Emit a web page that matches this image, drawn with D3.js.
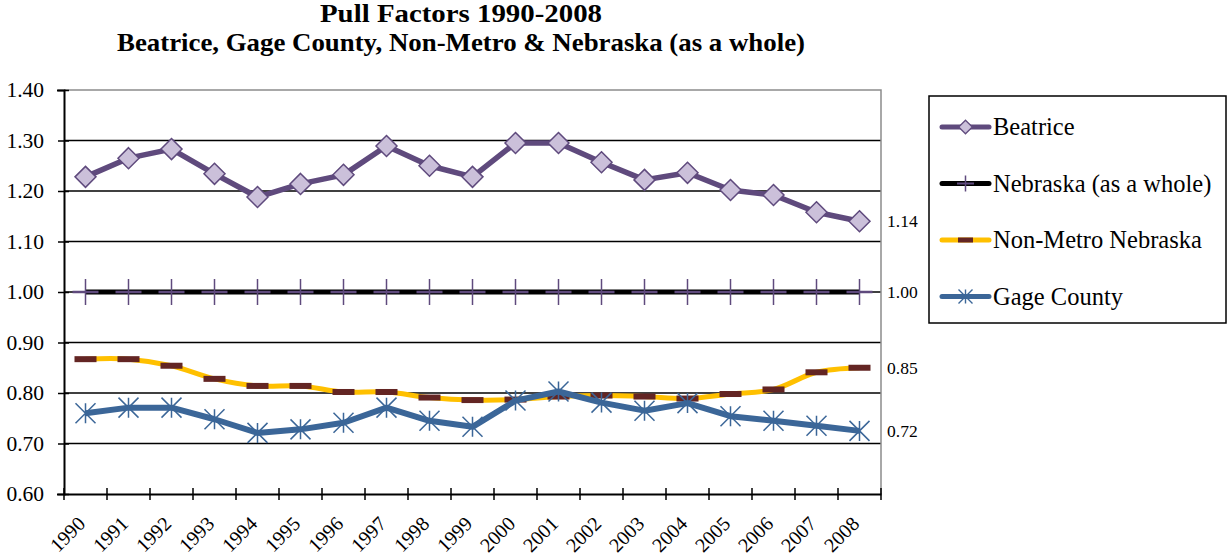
<!DOCTYPE html>
<html>
<head>
<meta charset="utf-8">
<script src="https://cdn.jsdelivr.net/npm/d3@7"></script>
<style>
  body { margin: 0; background: #fff; }
  svg { display: block; }
  text { font-family: "Liberation Serif", "Times New Roman", serif; }
</style>
</head>
<body>
<script>
// data
var years = ["1990","1991","1992","1993","1994","1995","1996","1997","1998","1999",
             "2000","2001","2002","2003","2004","2005","2006","2007","2008"];
var beatrice = [1.228,1.265,1.283,1.234,1.188,1.214,1.232,1.289,1.250,1.228,
                1.295,1.295,1.257,1.222,1.236,1.202,1.192,1.158,1.140];
var nebraska = [1.00,1.00,1.00,1.00,1.00,1.00,1.00,1.00,1.00,1.00,
                1.00,1.00,1.00,1.00,1.00,1.00,1.00,1.00,1.00];
var nonMetro = [0.867,0.867,0.854,0.828,0.814,0.814,0.802,0.802,0.791,0.786,
                0.787,0.793,0.795,0.793,0.789,0.798,0.807,0.841,0.850];
var gage = [0.760,0.771,0.771,0.748,0.721,0.728,0.741,0.771,0.745,0.733,
            0.785,0.803,0.781,0.765,0.780,0.754,0.745,0.735,0.725];
var yTicks = [0.60,0.70,0.80,0.90,1.00,1.10,1.20,1.30,1.40];
var endLabels = ["1.14","1.00","0.85","0.72"];

var svgWidth = 1228, svgHeight = 559;
var margin = {top: 90, left: 64, right: 881, bottom: 494};
var serif = "Liberation Serif";

var svg = d3.select("body").append("svg")
  .attr("width", svgWidth).attr("height", svgHeight);

var x = d3.scaleBand().domain(years).range([margin.left, margin.right]);
var y = d3.scaleLinear().domain([0.6, 1.4]).range([margin.bottom, margin.top]);
var cx = function(i) { return x(years[i]) + x.bandwidth() / 2; };

// title
var title = svg.append("g").attr("font-weight", "bold").attr("font-size", 26)
  .attr("font-family", serif).attr("text-anchor", "middle");
title.append("text").attr("x", 461).attr("y", 22).text("Pull Factors 1990-2008")
  .attr("textLength", 282).attr("lengthAdjust", "spacingAndGlyphs");
title.append("text").attr("x", 461).attr("y", 51)
  .text("Beatrice, Gage County, Non-Metro & Nebraska (as a whole)")
  .attr("textLength", 688).attr("lengthAdjust", "spacingAndGlyphs");

// gridlines
svg.append("g").selectAll("line").data(yTicks.filter(function(d) { return d > 0.65 && d < 1.35; }))
  .join("line")
  .attr("x1", margin.left).attr("x2", margin.right)
  .attr("y1", function(d) { return y(d); }).attr("y2", function(d) { return y(d); })
  .attr("stroke", "#000").attr("stroke-width", 1.5);

// top / right border
svg.append("path")
  .attr("d", "M" + margin.left + "," + margin.top + "H" + margin.right + "V" + margin.bottom)
  .attr("fill", "none").attr("stroke", "#8c8c8c").attr("stroke-width", 1.5);

// y axis
var yAxis = svg.append("g").attr("transform", "translate(" + margin.left + ",0)")
  .call(d3.axisLeft(y).tickValues(yTicks).tickFormat(d3.format(".2f")).tickSize(7).tickPadding(13));
yAxis.attr("font-family", serif).attr("font-size", 21.5);
yAxis.select(".domain").attr("stroke-width", 2);
yAxis.selectAll(".tick line").attr("x2", 5).attr("x1", -6).attr("stroke-width", 1.5);
yAxis.selectAll(".tick text").attr("fill", "#000");

// x axis
var xAxis = svg.append("g").attr("transform", "translate(0," + margin.bottom + ")")
  .call(d3.axisBottom(x).tickSize(0).tickPadding(0));
xAxis.attr("font-family", serif).attr("font-size", 20);
xAxis.select(".domain").attr("stroke-width", 2);
xAxis.selectAll(".tick text")
  .attr("fill", "#000")
  .attr("text-anchor", "end")
  .attr("transform", "translate(1,31) rotate(-45)")
  .attr("dy", 0);
// boundary tick marks
var bounds = years.map(function(d) { return x(d); }).concat([margin.right]);
svg.append("g").selectAll("line").data(bounds).join("line")
  .attr("x1", function(d) { return d; }).attr("x2", function(d) { return d; })
  .attr("y1", margin.bottom - 6).attr("y2", margin.bottom + 6)
  .attr("stroke", "#000").attr("stroke-width", 1.5);

var line = d3.line().x(function(d, i) { return cx(i); }).y(function(d) { return y(d); });
var smooth = d3.line().x(function(d, i) { return cx(i); }).y(function(d) { return y(d); })
  .curve(d3.curveCatmullRom);

var purple = "#5f4a7d", lilac = "#cbc0da", blue = "#3b6698", gold = "#ffc000", maroon = "#632523";

// Nebraska
svg.append("path").datum(nebraska).attr("d", line)
  .attr("fill", "none").attr("stroke", "#000").attr("stroke-width", 5);
var plus = svg.append("g").selectAll("g").data(nebraska).join("g")
  .attr("transform", function(d, i) { return "translate(" + cx(i) + "," + y(d) + ")"; });
plus.append("line").attr("x1", -13).attr("x2", 13).attr("stroke", purple).attr("stroke-width", 2.5);
plus.append("line").attr("y1", -13).attr("y2", 13).attr("stroke", purple).attr("stroke-width", 1.5);

// Non-Metro
svg.append("path").datum(nonMetro).attr("d", smooth)
  .attr("fill", "none").attr("stroke", gold).attr("stroke-width", 5);
svg.append("g").selectAll("rect").data(nonMetro).join("rect")
  .attr("x", function(d, i) { return cx(i) - 11; }).attr("y", function(d) { return y(d) - 3; })
  .attr("width", 22).attr("height", 6).attr("fill", maroon);

// Gage
svg.append("path").datum(gage).attr("d", line)
  .attr("fill", "none").attr("stroke", blue).attr("stroke-width", 6).attr("stroke-linejoin", "round");
var star = d3.symbol().type({draw: function(ctx, s) {
  var r = 10;
  ctx.moveTo(-r, -r); ctx.lineTo(r, r);
  ctx.moveTo(-r, r); ctx.lineTo(r, -r);
  ctx.moveTo(0, -r); ctx.lineTo(0, r);
}});
svg.append("g").selectAll("path").data(gage).join("path")
  .attr("transform", function(d, i) { return "translate(" + cx(i) + "," + y(d) + ")"; })
  .attr("d", star).attr("fill", "none").attr("stroke", blue).attr("stroke-width", 1.5);

// Beatrice
svg.append("path").datum(beatrice).attr("d", line)
  .attr("fill", "none").attr("stroke", purple).attr("stroke-width", 5.5).attr("stroke-linejoin", "round");
var diamond = d3.symbol().type({draw: function(ctx, s) {
  var r = 10.5;
  ctx.moveTo(0, -r); ctx.lineTo(r, 0); ctx.lineTo(0, r); ctx.lineTo(-r, 0); ctx.closePath();
}});
svg.append("g").selectAll("path").data(beatrice).join("path")
  .attr("transform", function(d, i) { return "translate(" + cx(i) + "," + y(d) + ")"; })
  .attr("d", diamond).attr("fill", lilac).attr("stroke", purple).attr("stroke-width", 1.5);

// end labels
var last = years.length - 1;
var lastVals = [beatrice[last], nebraska[last], nonMetro[last], gage[last]];
svg.append("g").attr("font-family", serif).attr("font-size", 17.5)
  .selectAll("text").data(lastVals).join("text")
  .attr("x", 887).attr("y", function(d) { return y(d) + 6; })
  .text(function(d, i) { return endLabels[i]; });

// legend
var legend = svg.append("g");
legend.append("rect").attr("x", 929).attr("y", 96).attr("width", 297).attr("height", 227)
  .attr("fill", "#fff").attr("stroke", "#000").attr("stroke-width", 1.5);
var names = ["Beatrice", "Nebraska (as a whole)", "Non-Metro Nebraska", "Gage County"];
var lineCols = [purple, "#000", gold, blue];
var item = legend.selectAll("g").data(names).join("g")
  .attr("transform", function(d, i) { return "translate(942," + (127 + i * 56.5) + ")"; });
item.append("line").attr("x1", 0).attr("x2", 47)
  .attr("stroke", function(d, i) { return lineCols[i]; }).attr("stroke-width", 5)
  .attr("stroke-linecap", "round");
item.filter(function(d, i) { return i === 0; }).append("path")
  .attr("transform", "translate(23.5,0) scale(0.65)").attr("d", diamond)
  .attr("fill", lilac).attr("stroke", purple).attr("stroke-width", 2);
item.filter(function(d, i) { return i === 1; }).each(function() {
  var g = d3.select(this);
  g.append("line").attr("x1", 15).attr("x2", 32).attr("stroke", purple).attr("stroke-width", 2);
  g.append("line").attr("x1", 23.5).attr("x2", 23.5).attr("y1", -8).attr("y2", 8).attr("stroke", purple).attr("stroke-width", 1.5);
});
item.filter(function(d, i) { return i === 2; }).append("rect")
  .attr("x", 16).attr("y", -2.5).attr("width", 15).attr("height", 5).attr("fill", maroon);
item.filter(function(d, i) { return i === 3; }).append("path")
  .attr("transform", "translate(23.5,0) scale(0.7)").attr("d", star)
  .attr("fill", "none").attr("stroke", blue).attr("stroke-width", 2);
item.append("text").attr("x", 51).attr("y", 8)
  .attr("font-family", serif).attr("font-size", 24.5).text(function(d) { return d; });
</script>
</body>
</html>
